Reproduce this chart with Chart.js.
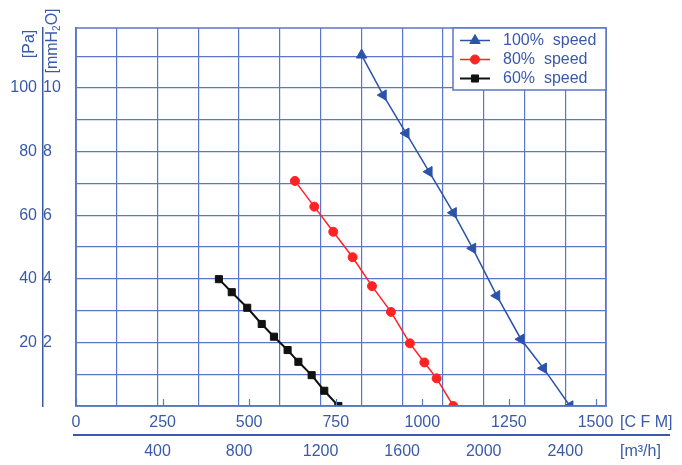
<!DOCTYPE html>
<html>
<head>
<meta charset="utf-8">
<script src="https://cdn.jsdelivr.net/npm/chart.js@4.4.1/dist/chart.umd.min.js"></script>
<style>
  html, body { margin: 0; padding: 0; background: #ffffff; }
  #wrap { width: 682px; height: 465px; }
</style>
</head>
<body>
<div id="wrap"><canvas id="c" width="682" height="465"></canvas></div>
<script>
// ---- data (flow in m3/h, static pressure in mmH2O) ----
const flow100  = [1401, 1507, 1619, 1732, 1851, 1946, 2064, 2183, 2293, 2423];
const press100 = [11.04, 9.78, 8.58, 7.37, 6.08, 4.96, 3.47, 2.10, 1.19, 0];
const flow80   = [1074, 1169, 1262, 1357, 1452, 1545, 1638, 1709, 1769, 1851];
const press80  = [7.08, 6.27, 5.48, 4.68, 3.77, 2.96, 1.97, 1.37, 0.87, 0];
const flow60   = [701, 764, 840, 911, 971, 1038, 1091, 1156, 1218, 1287];
const press60  = [3.99, 3.58, 3.09, 2.58, 2.18, 1.76, 1.39, 0.97, 0.48, 0];
const seriesLabels = ['100%  speed', '80%  speed', '60%  speed'];
const m3hLabels = [400, 800, 1200, 1600, 2000, 2400];
const cfmLabels = [0, 250, 500, 750, 1000, 1250, 1500];
const mmLabels = [2, 4, 6, 8, 10];
const paLabels = [20, 40, 60, 80, 100];
const M3H_PER_CFM = 1.69901;
const M3H_MAX = 2600;
const MM_MAX = 11.89;

const TEXT = '#3a5aa8';
const GRID = '#5a76c6';
const BLUE = '#2b53aa';
const RED = '#ff2222';
const BLACK = '#111111';
const FONT = '"Liberation Sans", Arial, Helvetica, sans-serif';

Chart.defaults.font.family = FONT;
Chart.defaults.font.size = 16;
Chart.defaults.color = TEXT;

function pts(xs, ys) { return xs.map((x, i) => ({ x: x, y: ys[i] })); }
function near(list, v) { return list.some(t => Math.abs(t - v) < 1e-6); }

const chartPlugin = {
  id: 'extras',
  afterDraw(chart) {
    const ctx = chart.ctx, a = chart.chartArea;
    const cfm = chart.scales.cfm, xs = chart.scales.x;
    ctx.save();
    // frame
    ctx.strokeStyle = GRID;
    ctx.lineWidth = 1.5;
    ctx.strokeRect(a.left, a.top, a.right - a.left, a.bottom - a.top);
    // inward CFM tick marks
    ctx.lineWidth = 1.2;
    cfm.ticks.forEach(t => {
      const px = Math.round(cfm.getPixelForValue(t.value)) + 0.5;
      ctx.beginPath(); ctx.moveTo(px, a.bottom); ctx.lineTo(px, a.bottom - 7); ctx.stroke();
    });
    // separator between CFM and m3/h rows
    ctx.strokeStyle = TEXT;
    ctx.lineWidth = 2;
    ctx.beginPath(); ctx.moveTo(a.left - 3, xs.top); ctx.lineTo(a.right + 64, xs.top); ctx.stroke();
    // unit labels
    ctx.fillStyle = TEXT;
    ctx.font = '16px ' + FONT;
    ctx.textBaseline = 'middle';
    ctx.textAlign = 'left';
    ctx.fillText('[C F M]', a.right + 14, cfm.top + 17);
    ctx.fillText('[m\u00B3/h]', a.right + 14, xs.top + 17);
    // [Pa]
    ctx.save();
    ctx.translate(30, 44);
    ctx.rotate(-Math.PI / 2);
    ctx.textAlign = 'center';
    ctx.fillText('[Pa]', 0, 0);
    ctx.restore();
    // [mmH2O]
    ctx.save();
    ctx.translate(53, 41);
    ctx.rotate(-Math.PI / 2);
    ctx.textAlign = 'left';
    ctx.font = '16px ' + FONT;
    const p1 = '[mmH', p3 = 'O]';
    const w1 = ctx.measureText(p1).width, w3 = ctx.measureText(p3).width;
    ctx.font = '10px ' + FONT;
    const w2 = ctx.measureText('2').width;
    const W = w1 + w2 + w3;
    let x0 = -W / 2;
    ctx.font = '16px ' + FONT;
    ctx.fillText(p1, x0, 0);
    ctx.font = '10px ' + FONT;
    ctx.fillText('2', x0 + w1, 4);
    ctx.font = '16px ' + FONT;
    ctx.fillText(p3, x0 + w1 + w2, 0);
    ctx.restore();
    // legend box
    const lx = a.right - 153, ly = a.top, lw = 153, lh = 62;
    ctx.fillStyle = '#ffffff';
    ctx.fillRect(lx, ly, lw, lh);
    ctx.strokeStyle = GRID;
    ctx.lineWidth = 1.5;
    ctx.strokeRect(lx, ly, lw, lh);
    chart.data.datasets.forEach((ds, i) => {
      const y = ly + 12.5 + 19 * i;
      ctx.strokeStyle = ds.borderColor;
      ctx.fillStyle = ds.backgroundColor;
      ctx.lineWidth = ds.borderWidth;
      ctx.beginPath(); ctx.moveTo(lx + 7, y); ctx.lineTo(lx + 37, y); ctx.stroke();
      ctx.lineWidth = 1;
      Chart.helpers.drawPoint(ctx, { pointStyle: ds.pointStyle, rotation: 0, radius: ds.pointRadius, borderWidth: 1 }, lx + 22, y);
      ctx.fillStyle = TEXT;
      ctx.font = '16px ' + FONT;
      ctx.textAlign = 'left';
      ctx.textBaseline = 'middle';
      ctx.fillText(ds.label, lx + 50, y);
    });
    ctx.restore();
  }
};

function zeroPad(s) { s.paddingLeft = 0; s.paddingRight = 0; s.paddingTop = 0; s.paddingBottom = 0; }

new Chart(document.getElementById('c'), {
  type: 'scatter',
  data: {
    datasets: [
      { label: seriesLabels[0], data: pts(flow100, press100), borderColor: BLUE, backgroundColor: BLUE,
        borderWidth: 1.5, pointStyle: 'triangle', pointRadius: 6, pointBorderWidth: 1,
        pointRotation: c => (c.dataIndex === 0 ? 0 : 150), showLine: true, clip: 0 },
      { label: seriesLabels[1], data: pts(flow80, press80), borderColor: RED, backgroundColor: RED,
        borderWidth: 1.5, pointStyle: 'circle', pointRadius: 4.5, pointBorderWidth: 1,
        showLine: true, clip: 0 },
      { label: seriesLabels[2], data: pts(flow60, press60), borderColor: BLACK, backgroundColor: BLACK,
        borderWidth: 2, pointStyle: 'rect', pointRadius: 5, pointBorderWidth: 1,
        showLine: true, clip: 0 }
    ]
  },
  options: {
    responsive: false,
    animation: false,
    events: [],
    layout: { padding: { left: 0, top: 28, right: 76, bottom: 5 } },
    plugins: { legend: { display: false }, tooltip: { enabled: false } },
    scales: {
      x: {
        type: 'linear', axis: 'x', position: 'bottom', weight: 2,
        min: 0, max: M3H_MAX,
        grid: { color: GRID, lineWidth: 1.2, drawTicks: false },
        border: { display: false },
        ticks: { stepSize: 200, autoSkip: false, maxRotation: 0, padding: 7, color: TEXT,
          callback: v => (near(m3hLabels, v) ? String(Math.round(v)) : '') },
        afterFit: s => { s.height = 25; zeroPad(s); }
      },
      cfm: {
        type: 'linear', axis: 'x', position: 'bottom', weight: 1,
        min: 0, max: M3H_MAX / M3H_PER_CFM,
        grid: { display: false, drawTicks: false },
        border: { display: true, color: GRID, width: 1.5 },
        afterBuildTicks: s => { s.ticks = cfmLabels.map(v => ({ value: v })); },
        ticks: { autoSkip: false, maxRotation: 0, minRotation: 0, padding: 7, color: TEXT,
          callback: v => String(Math.round(v)) },
        afterFit: s => { s.height = 29; zeroPad(s); }
      },
      y: {
        type: 'linear', axis: 'y', position: 'left', weight: 1,
        min: 0, max: MM_MAX,
        grid: { color: GRID, lineWidth: 1.2, drawTicks: false },
        border: { display: true, color: GRID, width: 1.5 },
        ticks: { stepSize: 1, includeBounds: false, autoSkip: false, crossAlign: 'far', padding: 0, color: TEXT,
          callback: v => (near(mmLabels, v) ? String(Math.round(v)) : '') },
        afterFit: s => { s.width = 33; zeroPad(s); }
      },
      ypa: {
        type: 'linear', axis: 'y', position: 'left', weight: 2,
        min: 0, max: MM_MAX * 10,
        grid: { display: false, drawOnChartArea: false, drawTicks: false },
        border: { display: true, color: TEXT, width: 1.5 },
        ticks: { stepSize: 20, includeBounds: false, autoSkip: false, padding: 6, color: TEXT,
          callback: v => (near(paLabels, v) ? String(Math.round(v)) : '') },
        afterFit: s => { s.width = 43; zeroPad(s); }
      }
    }
  },
  plugins: [chartPlugin]
});
</script>
</body>
</html>
